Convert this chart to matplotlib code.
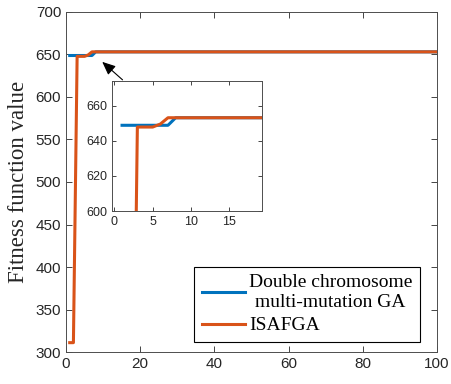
import matplotlib
matplotlib.use("Agg")
import matplotlib.pyplot as plt
import numpy as np

# Fitness per generation
generations = np.arange(1, 101)
ga_fitness = [648.8] * 7 + [653.1] * 93
isafga_fitness = [311.0, 311.0, 647.8, 647.8, 647.8, 649.5] + [653.1] * 94

labels = ["Double chromosome\nmulti-mutation GA", "ISAFGA"]
colors = ["#0072BD", "#D95319"]

plt.rcParams["font.family"] = ["Liberation Sans", "DejaVu Sans"]
spine_col = "#4d4d4d"
tick_col = "#262626"

fig = plt.figure(figsize=(4.52, 3.84), dpi=100)
ax = fig.add_axes([0.146, 0.0833, 0.821, 0.8855])

ax.plot(generations, ga_fitness, color=colors[0], lw=2.2, label=labels[0])
ax.plot(generations, isafga_fitness, color=colors[1], lw=2.2, label=labels[1])
ax.set_xlim(0, 100)
ax.set_ylim(300, 700)
ax.set_xticks(range(0, 101, 20))
ax.set_yticks(range(300, 701, 50))
ax.tick_params(direction="in", top=True, right=True, labelsize=11,
               colors=tick_col, length=4, width=0.6)
for s in ax.spines.values():
    s.set_color(spine_col)
    s.set_linewidth(0.7)
ax.set_ylabel("Fitness function value", family="Liberation Serif",
              fontsize=16.5, color=tick_col, labelpad=5)

leg = ax.legend(loc="lower right", bbox_to_anchor=(0.954, 0.029),
                prop={"family": "Liberation Serif", "size": 14},
                frameon=True, fancybox=False, edgecolor="black", framealpha=1,
                handlelength=2.2, handletextpad=0.2, borderpad=0.4,
                labelspacing=0.3, borderaxespad=0)
leg.get_frame().set_linewidth(0.8)
leg.get_texts()[0].set_multialignment("center")

# zoomed view of the first generations
ins = fig.add_axes([0.248, 0.4505, 0.332, 0.3385])
ins.plot(generations, ga_fitness, color=colors[0], lw=2.2)
ins.plot(generations, isafga_fitness, color=colors[1], lw=2.2)
ins.set_xlim(-0.3, 19.3)
ins.set_ylim(600, 674)
ins.set_xticks([0, 5, 10, 15])
ins.set_yticks([600, 620, 640, 660])
ins.tick_params(direction="in", top=True, right=True, labelsize=9,
                colors=tick_col, length=3, width=0.6)
for s in ins.spines.values():
    s.set_color(spine_col)
    s.set_linewidth(0.7)

ax.annotate("", xy=(9.2, 643.5), xytext=(15.8, 618),
            arrowprops=dict(arrowstyle="-|>,head_length=0.8,head_width=0.35",
                            color="black", lw=0.8))

fig.savefig("out.png", dpi=100)
